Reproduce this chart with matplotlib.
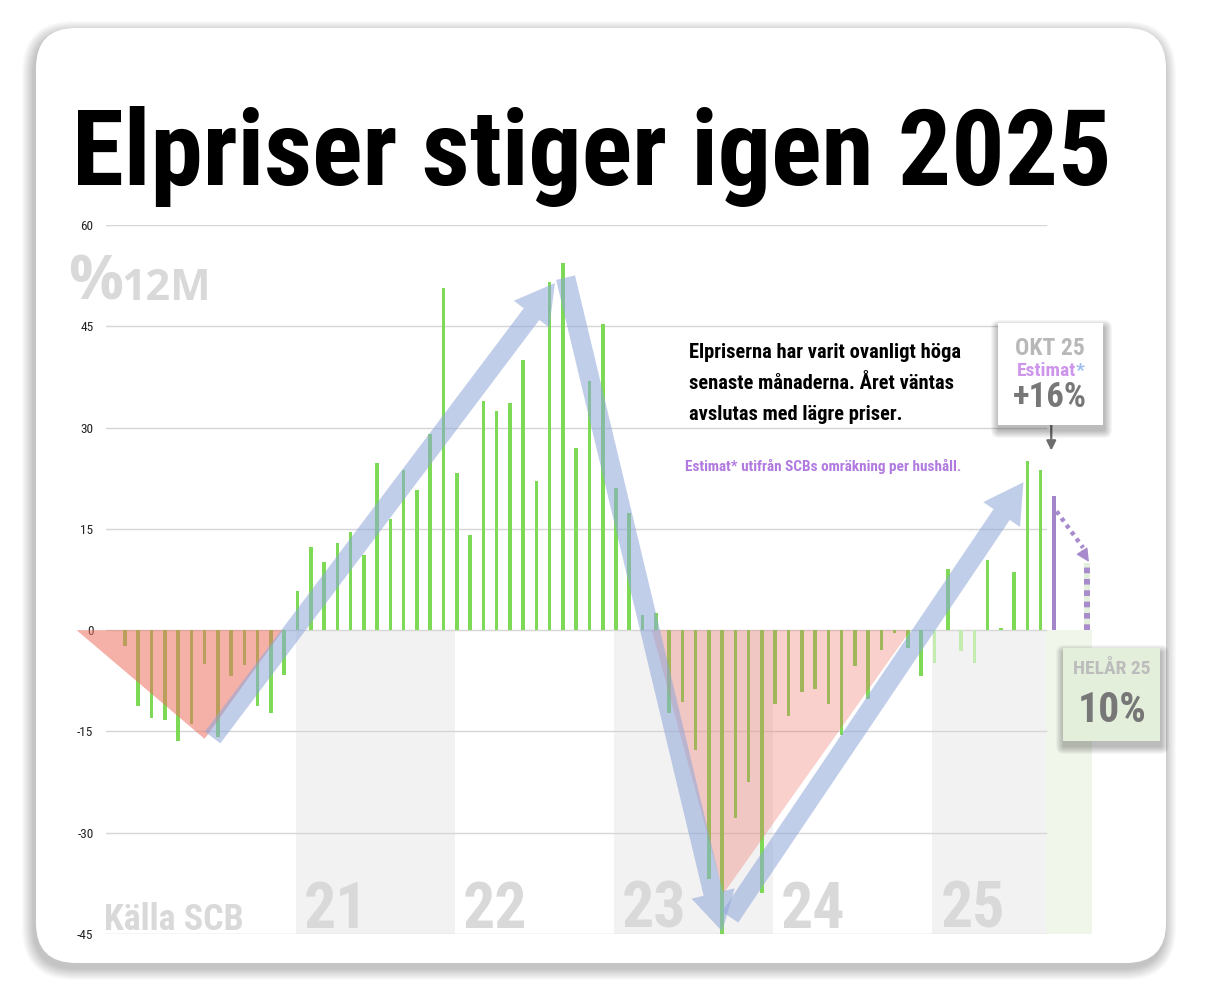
import os
import matplotlib
matplotlib.use('Agg')
import matplotlib.pyplot as plt
from matplotlib import font_manager as fm
from matplotlib.font_manager import FontProperties
from matplotlib.patches import FancyBboxPatch, Polygon, FancyArrowPatch, Rectangle, ArrowStyle
from matplotlib.transforms import IdentityTransform

W, H = 1208, 988

# yearly change in electricity price (%), monthly, Dec 2019 .. Sep 2025
values = [-2.4, -11.3, -13.0, -13.3, -16.4, -13.9, -5.0, -15.8, -6.8, -5.2, -11.2, -12.3, -6.7,
          5.8, 12.3, 10.1, 12.9, 14.6, 11.1, 24.8, 16.4, 23.7, 20.8, 29.1, 50.6,
          23.2, 14.1, 34.0, 32.4, 33.6, 40.0, 22.1, 51.5, 54.3, 27.0, 36.9, 45.4,
          21.1, 17.4, 2.3, 2.5, -12.3, -10.7, -17.7, -36.9, -45.3, -27.8, -22.5, -39.0,
          -11.0, -12.7, -9.1, -8.7, -10.9, -15.6, -5.3, -10.2, -3.0, -0.4, -2.7, -6.8,
          -4.9, 9.0, -3.1, -4.9, 10.4, 0.3, 8.6, 25.0, 23.7]
faded = [61, 63, 64]          # bars drawn in pale green
okt_estimate = 19.9           # October 2025 estimate (purple bar)
full_year = 10                # full-year 2025 estimate (dashed bar)
years = ['21', '22', '23', '24', '25']
yticks = [-45, -30, -15, 0, 15, 30, 45, 60]

GREEN = '#7ed957'
PALE = '#c4ebb0'
PURPLE = '#a385c9'
LGRAY = '#d9d9d9'


def find_font(keys):
    files = [f.fname for f in fm.fontManager.ttflist]
    for key in keys:
        for fn in files:
            base = os.path.basename(fn).lower().replace('-', '').replace('_', '').replace(' ', '')
            if key in base:
                return fn
    return None


BOLD = find_font(['robotocondensedbold', 'notosanscondensedbold.', 'opensanscondensedbold',
                  'dejavusanscondensedbold', 'liberationsansnarrowbold'])
REG = find_font(['robotocondensedregular', 'notosanscondensed.ttf', 'dejavusanscondensed.ttf',
                 'liberationsansnarrowregular'])


def fp(size, bold=True):
    f = BOLD if bold else REG
    if f:
        return FontProperties(fname=f, size=size)
    return FontProperties(family='DejaVu Sans', weight='bold' if bold else 'normal', size=size)


def px(x, y):
    return x / W, 1 - y / H


fig = plt.figure(figsize=(W / 100, H / 100), dpi=100, facecolor='white')
renderer = fig.canvas.get_renderer()


def fit(t, width, max_size):
    bb = t.get_window_extent(renderer)
    t.set_fontsize(min(max_size, t.get_fontsize() * width / bb.width))
    return t


def shadow_box(x0, y0, x1, y1, face, spread=8, alpha=0.035, dx=1, dy=5, rounding=0, z=6):
    for i in range(1, spread + 1):
        fig.add_artist(FancyBboxPatch((x0 - i + dx, H - y1 - i - dy), x1 - x0 + 2 * i, y1 - y0 + 2 * i,
                                      boxstyle=f'round,pad=0,rounding_size={rounding + i}',
                                      transform=IdentityTransform(), fc='black', ec='none',
                                      alpha=alpha, zorder=z - 0.5))
    if rounding:
        box = FancyBboxPatch((x0, H - y1), x1 - x0, y1 - y0,
                             boxstyle=f'round,pad=0,rounding_size={rounding}',
                             transform=IdentityTransform(), fc=face, ec='none', zorder=z)
    else:
        box = Rectangle((x0, H - y1), x1 - x0, y1 - y0, transform=IdentityTransform(),
                        fc=face, ec='none', zorder=z)
    fig.add_artist(box)


# card background
shadow_box(36, 28, 1166, 963, 'white', spread=12, alpha=0.018, dx=-2, dy=5, rounding=40, z=-5)

# main axes
ax = fig.add_axes([106 / W, 1 - 934 / H, (1092 - 106) / W, (934 - 225) / H])
ax.set_xlim(-1.432, 72.87)
ax.set_ylim(-45, 60)
ax.patch.set_visible(False)
for s in ax.spines.values():
    s.set_visible(False)
ax.set_xticks([])
ax.set_yticks(yticks)
ax.set_yticklabels([str(v) for v in yticks], fontproperties=fp(9.5, bold=False), color='#222222')
ax.tick_params(axis='y', length=0, pad=9)

for v in yticks:
    ax.plot([-1.43 if v > -45 else -2.3, 69.4], [v, v], color='#d6d6d6', lw=1, zorder=0.5)

# year shading and labels
for k, yr in enumerate(years):
    x0 = 12.85 + 12 * k
    x1 = min(x0 + 12, 69.4)
    if k % 2 == 0:
        ax.add_patch(Rectangle((x0, -45.2), x1 - x0, 45.2, color='#f2f2f2', lw=0, zorder=0.2))
    ax.text(x0 + 0.6, -44.1, yr, fontproperties=fp(46), color=LGRAY, va='baseline', zorder=0.3)
ax.add_patch(Rectangle((69.4, -45.6), 3.5, 45.6, color='#f0f6ea', lw=0, zorder=0.2))

# bars
idx = list(range(len(values)))
colors = [PALE if i in faded else GREEN for i in idx]
ax.bar(idx, values, width=0.27, color=colors, zorder=2)
ax.bar([len(values)], [okt_estimate], width=0.27, color=PURPLE, zorder=2)
ax.vlines(72.46, 0, full_year, color='#e3efda', lw=4.3, zorder=2)
ax.vlines(72.46, 0, full_year, color='#a88bcc', lw=4.3, linestyles=[(0, (0.95, 0.95))], zorder=2.1)

# red triangles
ax.add_patch(Polygon([(-3.65, 0), (11.9, 0), (6.0, -16.1)], closed=True,
                     fc=(237 / 255, 111 / 255, 97 / 255), alpha=0.55, lw=0, zorder=3, clip_on=False))
ax.add_patch(Polygon([(39.7, 0), (59.2, 0), (45.1, -39.0)], closed=True,
                     fc=(237 / 255, 111 / 255, 97 / 255), alpha=0.32, lw=0, zorder=3))

# blue trend arrows
style = ArrowStyle.Simple(head_length=28, head_width=32, tail_width=14)
for a, b in [((6.6, -15.9), (32.4, 51.4)), ((33.2, 52.2), (45.0, -44.6)), ((45.6, -42.5), (67.7, 21.9))]:
    ax.add_patch(FancyArrowPatch(a, b, arrowstyle=style, mutation_scale=1, shrinkA=0, shrinkB=0,
                                 fc='#8ea6da', ec='none', alpha=0.55, zorder=4, clip_on=False))

# small arrows
ax.annotate('', xy=(69.8, 26.6), xytext=(69.8, 30.4),
            arrowprops=dict(arrowstyle='-|>', color='#6d6d6d', lw=1.6, mutation_scale=14,
                            shrinkA=0, shrinkB=0), annotation_clip=False)
ax.plot([70.2, 72.2], [17.6, 12.2], color='#a88bcc', lw=3.2, ls=(0, (0.9, 1.0)), zorder=3,
        solid_capstyle='butt', clip_on=False)
ax.annotate('', xy=(72.64, 10.1), xytext=(72.12, 11.7),
            arrowprops=dict(arrowstyle='-|>', color='#a88bcc', lw=1, mutation_scale=20,
                            shrinkA=0, shrinkB=0), annotation_clip=False)

# title and labels
t = fig.text(*px(72, 185), 'Elpriser stiger igen 2025', fontproperties=fp(99), color='black',
             va='baseline', ha='left')
fit(t, 1042, 100)

pct = fig.text(*px(68, 300), '%', fontproperties=FontProperties(family='Open Sans', weight='bold', size=44),
               color=LGRAY, va='baseline')
pb = pct.get_window_extent(renderer)
fig.text((pb.x1 - 2) / W, 1 - 300 / H, '12M',
         fontproperties=FontProperties(family='Open Sans', weight='bold', size=31), color=LGRAY, va='baseline')
fit(fig.text(*px(104, 930), 'Källa SCB', fontproperties=fp(33), color=LGRAY, va='baseline'), 140, 36)

lines = ['Elpriserna har varit ovanligt höga', 'senaste månaderna. Året väntas',
         'avslutas med lägre priser.']
t1 = fit(fig.text(*px(689, 358), lines[0], fontproperties=fp(15), color='black', va='baseline'), 272, 17)
for ln, y in zip(lines[1:], [389, 420]):
    fig.text(*px(689, y), ln, fontproperties=fp(t1.get_fontsize()), color='black', va='baseline')
fit(fig.text(*px(685, 471), 'Estimat* utifrån SCBs omräkning per hushåll.', fontproperties=fp(12),
             color='#b07ae0', va='baseline'), 277, 13)

# boxes
shadow_box(998, 323, 1103, 425, 'white')
fig.text(*px(1050, 355), 'OKT 25', fontproperties=fp(17), color='#b8b8b8', ha='center',
         va='baseline', zorder=7)
te = fig.text(*px(1046, 376), 'Estimat', fontproperties=fp(14), color='#cd96eb', ha='center',
              va='baseline', zorder=7)
bb = te.get_window_extent(renderer)
fig.text(bb.x1 / W, 1 - 376 / H, '*', fontproperties=fp(14), color='#9dbdf0', va='baseline', zorder=7)
fig.text(*px(1050, 407), '+16%', fontproperties=fp(25), color='#777777', ha='center',
         va='baseline', zorder=7)

shadow_box(1063, 648, 1160, 741, '#e3efda')
fig.text(*px(1112, 674), 'HELÅR 25', fontproperties=fp(14), color='#bcbcbc', ha='center',
         va='baseline', zorder=7)
fig.text(*px(1112, 722), '10%', fontproperties=fp(30), color='#777777', ha='center',
         va='baseline', zorder=7)

fig.savefig('out.png', dpi=100, facecolor='white')
